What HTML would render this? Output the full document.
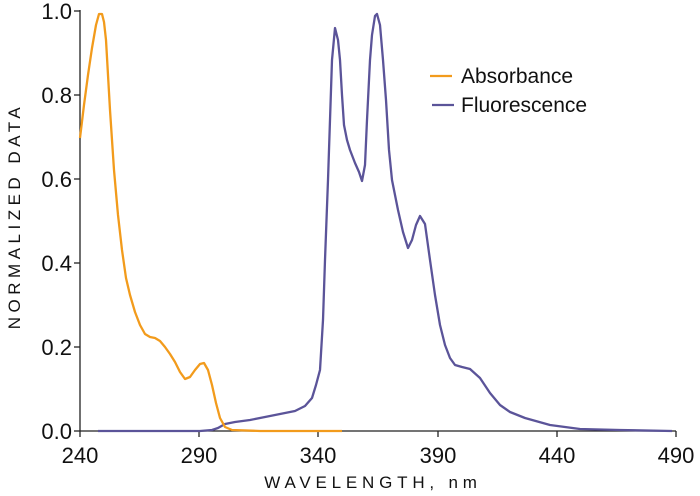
<!DOCTYPE html>
<html><head><meta charset="utf-8"><style>
html,body{margin:0;padding:0;background:#fff;}
svg{display:block;font-family:"Liberation Sans",sans-serif;}
</style></head><body>
<svg width="700" height="496" viewBox="0 0 700 496" xmlns="http://www.w3.org/2000/svg">
<g stroke="#222" stroke-width="1.3" fill="none">
<line x1="80" y1="10" x2="80" y2="431"/>
<line x1="80" y1="431" x2="676" y2="431"/>
<line x1="74" y1="11" x2="80" y2="11"/>
<line x1="74" y1="95" x2="80" y2="95"/>
<line x1="74" y1="179" x2="80" y2="179"/>
<line x1="74" y1="263" x2="80" y2="263"/>
<line x1="74" y1="347" x2="80" y2="347"/>
<line x1="74" y1="431" x2="80" y2="431"/>
<line x1="80" y1="431" x2="80" y2="437"/>
<line x1="199" y1="431" x2="199" y2="437"/>
<line x1="318" y1="431" x2="318" y2="437"/>
<line x1="438" y1="431" x2="438" y2="437"/>
<line x1="557" y1="431" x2="557" y2="437"/>
<line x1="676" y1="431" x2="676" y2="437"/>
</g>
<g font-size="22" fill="#111" text-anchor="end">
<text x="72" y="19">1.0</text>
<text x="72" y="103">0.8</text>
<text x="72" y="187">0.6</text>
<text x="72" y="271">0.4</text>
<text x="72" y="355">0.2</text>
<text x="72" y="439">0.0</text>
</g>
<g font-size="22" fill="#111" text-anchor="middle">
<text x="80" y="463">240</text>
<text x="199" y="463">290</text>
<text x="318" y="463">340</text>
<text x="438" y="463">390</text>
<text x="557" y="463">440</text>
<text x="676" y="463">490</text>
</g>
<text x="373" y="488" font-size="17" fill="#111" text-anchor="middle" letter-spacing="4.8">WAVELENGTH, nm</text>
<text transform="translate(20,216) rotate(-90)" font-size="17" fill="#111" text-anchor="middle" letter-spacing="4.5">NORMALIZED DATA</text>
<polyline fill="none" stroke="#5b5499" stroke-width="2.3" stroke-linejoin="round" points="98,431 200,431 212,430 218,428 225,424 235,422 250,420 265,417 280,414 295,411 305,406 312,398 316,385 320,370 323,320 325,260 328,180 330,120 332,60 335,28 338,40 340,60 342,95 344,125 347,140 350,150 355,163 359,172 362,181 365,165 367,120 370,60 372,35 375,16 377,14 380,25 383,60 386,100 389,150 392,180 398,210 403,232 408,248 412,240 416,225 420,216 425,224 430,260 435,295 440,325 445,345 450,358 455,365 462,367 470,369 480,378 490,393 500,405 510,412 525,418 550,425 580,429 620,430 672,431"/>
<polyline fill="none" stroke="#f29b1c" stroke-width="2.3" stroke-linejoin="round" points="80,138 84,105 88,75 92,48 96,25 99,14 102,14 104,22 106,40 110,110 114,170 118,215 122,250 126,278 130,295 135,312 140,325 145,334 150,337 155,338 160,341 165,347 170,354 175,362 180,372 185,379 190,377 195,370 200,364 204,363 208,370 212,385 216,403 220,418 225,427 232,430 260,431 342,431"/>
<line x1="430" y1="76" x2="452" y2="76" stroke="#f29b1c" stroke-width="2.3"/>
<line x1="432" y1="105" x2="454" y2="105" stroke="#5b5499" stroke-width="2.3"/>
<text x="461" y="83" font-size="21" fill="#111">Absorbance</text>
<text x="461" y="112" font-size="21" fill="#111">Fluorescence</text>
</svg>
</body></html>
